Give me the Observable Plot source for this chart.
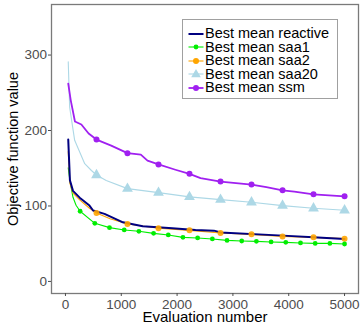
<!DOCTYPE html>
<html>
<head>
<meta charset="utf-8">
<script src="https://cdn.jsdelivr.net/npm/d3@7"></script>
<script src="https://cdn.jsdelivr.net/npm/@observablehq/plot@0.6"></script>
<style>
  body { margin: 0; background: white; }
  #wrap { position: relative; width: 364px; height: 326px; font-family: "Liberation Sans", Arial, sans-serif; }
  #legend { position: absolute; left: 182px; top: 19px; width: 156px; height: 80px; box-sizing: border-box;
            border: 1px solid #a0a0a0; background: white; padding-top: 7px; }
  .row { height: 13.5px; line-height: 13.5px; font-size: 14.5px; color: black; white-space: nowrap; display: flex; align-items: center; }
  .row svg { flex: none; }
</style>
</head>
<body>
<div id="wrap"><div id="legend"></div></div>
<script>
// ---- data ----
const seriesNames = ["Best mean reactive", "Best mean saa1", "Best mean saa2", "Best mean saa20", "Best mean ssm"];
const seriesColors = ["#000080", "#00ee00", "#ffa500", "#add8e6", "#a020f0"];

const reactiveX = [50, 80, 135, 255, 430, 495, 700, 1030, 1385, 1915, 2330, 2660, 2780, 3900, 4440, 5000];
const reactiveY = [188, 134, 120, 111, 100.5, 94, 89.5, 78.3, 73, 70.4, 68.2, 67.3, 65, 60.7, 58.4, 56.3];

const saa1X = [50, 80, 135, 190, 263, 526, 789, 1053, 1316, 1579, 1842, 2105, 2368, 2632, 2895, 3158, 3421, 3684, 3947, 4211, 4474, 4737, 5000];
const saa1Y = [150.5, 133.7, 111.5, 101, 93, 77, 71.3, 68.2, 66.4, 63.7, 61.6, 58.4, 57.6, 56.3, 54.4, 53.6, 53.1, 52.3, 51.8, 51, 50.4, 50.4, 49.6];
const saa1Marks = [263, 526, 789, 1053, 1316, 1579, 1842, 2105, 2368, 2632, 2895, 3158, 3421, 3684, 3947, 4211, 4474, 4737, 5000];

const saa2X = [50, 80, 135, 255, 430, 556, 800, 1111, 1667, 2222, 2778, 3333, 3889, 4444, 5000];
const saa2Y = [172, 130, 117, 108, 97, 90.8, 83, 76.2, 70.4, 67.7, 64.2, 62.4, 59.7, 58.4, 56.7];

const saa20X = [50, 75, 165, 345, 465, 556, 730, 1111, 1667, 2222, 2778, 3333, 3889, 4444, 5000];
const saa20Y = [291, 231, 187, 156, 147, 141, 133.7, 123, 117.7, 112, 108.4, 104.9, 100.5, 96.9, 94.3];

const ssmX = [50, 95, 170, 285, 415, 556, 820, 1111, 1350, 1470, 1667, 1970, 2222, 2420, 2778, 3333, 3600, 3889, 4100, 4444, 5000];
const ssmY = [262, 240, 212, 208, 196, 188, 180, 170, 168, 160, 155, 148, 142.6, 137, 132.3, 128.4, 125, 120.8, 119, 115.5, 112.8];

const commonMarks = [556, 1111, 1667, 2222, 2778, 3333, 3889, 4444, 5000];

const xTicks = [0, 1000, 2000, 3000, 4000, 5000];
const yTicks = [0, 100, 200, 300];
const xTitle = "Evaluation number";
const yTitle = "Objective function value";

// ---- build tables ----
const toRows = (xs, ys) => xs.map((x, i) => ({x, y: ys[i]}));
const reactive = toRows(reactiveX, reactiveY);
const saa1 = toRows(saa1X, saa1Y);
const saa2 = toRows(saa2X, saa2Y);
const saa20 = toRows(saa20X, saa20Y);
const ssm = toRows(ssmX, ssmY);
const pick = (rows, marks) => rows.filter(d => marks.includes(d.x));

const chart = Plot.plot({
  width: 364, height: 326,
  marginLeft: 51, marginRight: 6, marginTop: 4, marginBottom: 33,
  style: {fontFamily: "Liberation Sans, Arial, sans-serif", fontSize: "13.5px", color: "#4d4d4d", background: "white"},
  x: {domain: [-250, 5250]},
  y: {domain: [-16, 367]},
  marks: [
    Plot.frame({stroke: "#7a7a7a", strokeWidth: 1.3}),
    Plot.axisX({ticks: xTicks, tickSize: 3, tickPadding: 2.5, tickFormat: d => String(d), label: null}),
    Plot.axisY({ticks: yTicks, tickSize: 3, tickPadding: 1.5, tickFormat: d => String(d), label: null}),
    Plot.line(saa20, {x: "x", y: "y", stroke: seriesColors[3], strokeWidth: 1.1}),
    Plot.line(ssm, {x: "x", y: "y", stroke: seriesColors[4], strokeWidth: 1.8}),
    Plot.line(saa1, {x: "x", y: "y", stroke: seriesColors[1], strokeWidth: 1.1}),
    Plot.line(saa2, {x: "x", y: "y", stroke: seriesColors[2], strokeWidth: 1.1}),
    Plot.line(reactive, {x: "x", y: "y", stroke: seriesColors[0], strokeWidth: 2}),
    Plot.dot(pick(saa20, commonMarks), {x: "x", y: "y", symbol: "triangle", r: 4, fill: seriesColors[3], stroke: "none"}),
    Plot.dot(pick(ssm, commonMarks), {x: "x", y: "y", r: 3, fill: seriesColors[4], stroke: "none"}),
    Plot.dot(pick(saa2, commonMarks), {x: "x", y: "y", r: 3, fill: seriesColors[2], stroke: "none", fillOpacity: 0.9}),
    Plot.dot(pick(saa1, saa1Marks), {x: "x", y: "y", r: 2.4, fill: seriesColors[1], stroke: "none"}),
    Plot.text([xTitle], {frameAnchor: "bottom", textAnchor: "middle", lineAnchor: "bottom", dy: 28.5, fontSize: 15, fill: "black"}),
    Plot.text([yTitle], {frameAnchor: "left", textAnchor: "middle", dx: -38.5, rotate: -90, fontSize: 14.5, fill: "black"})
  ]
});
document.getElementById("wrap").prepend(chart);

// ---- legend ----
const symbols = [null, "circle", "circle", "triangle", "circle"];
const lw = [2, 1.1, 1.1, 1.1, 1.8];
const legend = document.getElementById("legend");
seriesNames.forEach((name, i) => {
  const row = document.createElement("div");
  row.className = "row";
  let mark = "";
  if (symbols[i] === "circle") mark = `<circle cx="13" cy="7" r="${i === 1 ? 2.4 : 3}" fill="${seriesColors[i]}"/>`;
  if (symbols[i] === "triangle") mark = `<path d="${d3.symbol(d3.symbolTriangle, 40)()}" transform="translate(13,7.5)" fill="${seriesColors[i]}"/>`;
  row.innerHTML = `<svg width="22" height="14"><line x1="5.5" x2="20.5" y1="7" y2="7" stroke="${seriesColors[i]}" stroke-width="${lw[i]}"/>${mark}</svg><span>${name}</span>`;
  legend.appendChild(row);
});
</script>
</body>
</html>
